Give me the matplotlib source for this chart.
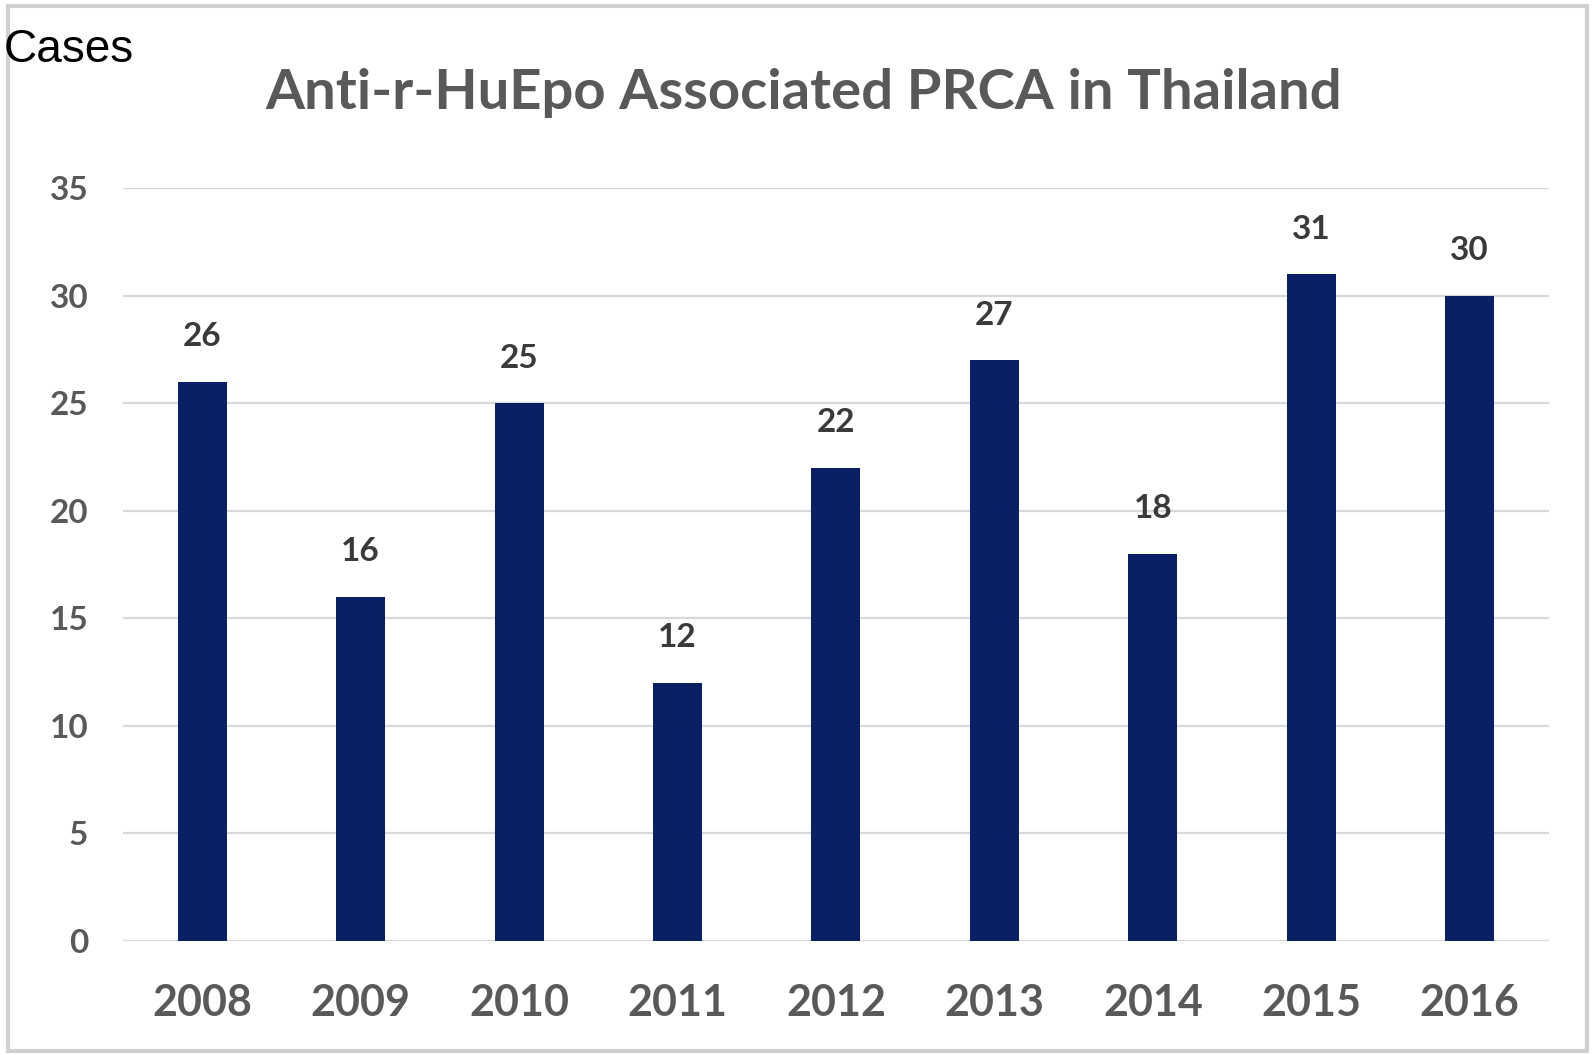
import matplotlib.pyplot as plt
from matplotlib.patches import Rectangle

years = ["2008", "2009", "2010", "2011", "2012", "2013", "2014", "2015", "2016"]
cases = [26, 16, 25, 12, 22, 27, 18, 31, 30]
yticks = [0, 5, 10, 15, 20, 25, 30, 35]

bar_color = "#0b1f66"
text_gray = "#595959"

plt.rcParams["font.family"] = ["Lato", "DejaVu Sans"]

fig = plt.figure(figsize=(15.95, 10.55), dpi=100)
ax = fig.add_axes([0.0771, 0.108, 0.894, 0.7137])

x = range(len(years))
bars = ax.bar(x, cases, width=0.31, color=bar_color, zorder=3)

ax.set_xlim(-0.5, len(years) - 0.5)
ax.set_ylim(0, 35)
ax.set_yticks(yticks)
ax.set_xticks(list(x))
ax.set_xticklabels(years)

ax.grid(axis="y", color="#d9d9d9", linewidth=1.6, zorder=0)
for s in ax.spines.values():
    s.set_visible(False)
ax.tick_params(axis="both", length=0)
ax.tick_params(axis="y", pad=25, labelsize=24, labelcolor=text_gray)
ax.tick_params(axis="x", pad=30, labelsize=31, labelcolor=text_gray)
for lbl in ax.get_yticklabels() + ax.get_xticklabels():
    lbl.set_fontweight("bold")

for b, v in zip(bars, cases):
    ax.annotate(str(v), (b.get_x() + b.get_width() / 2, v), xytext=(0, 22),
                textcoords="offset points", ha="center", va="bottom",
                fontsize=24, fontweight="bold", color="#3a3a3a")

fig.text(0.504, 0.897, "Anti-r-HuEpo Associated PRCA in Thailand", ha="center",
         va="baseline", fontsize=40.5, fontweight="bold", color=text_gray)

fig.text(0.002, 0.941, "Cases", ha="left", va="baseline", fontsize=33,
         family=["Liberation Sans", "DejaVu Sans"], color="black")

# light frame around the picture
fig.patches.append(Rectangle((0.005, 0.004), 0.99, 0.99, transform=fig.transFigure,
                             fill=False, edgecolor="#d0d0d0", linewidth=3))

fig.savefig("out.png", dpi=100)
